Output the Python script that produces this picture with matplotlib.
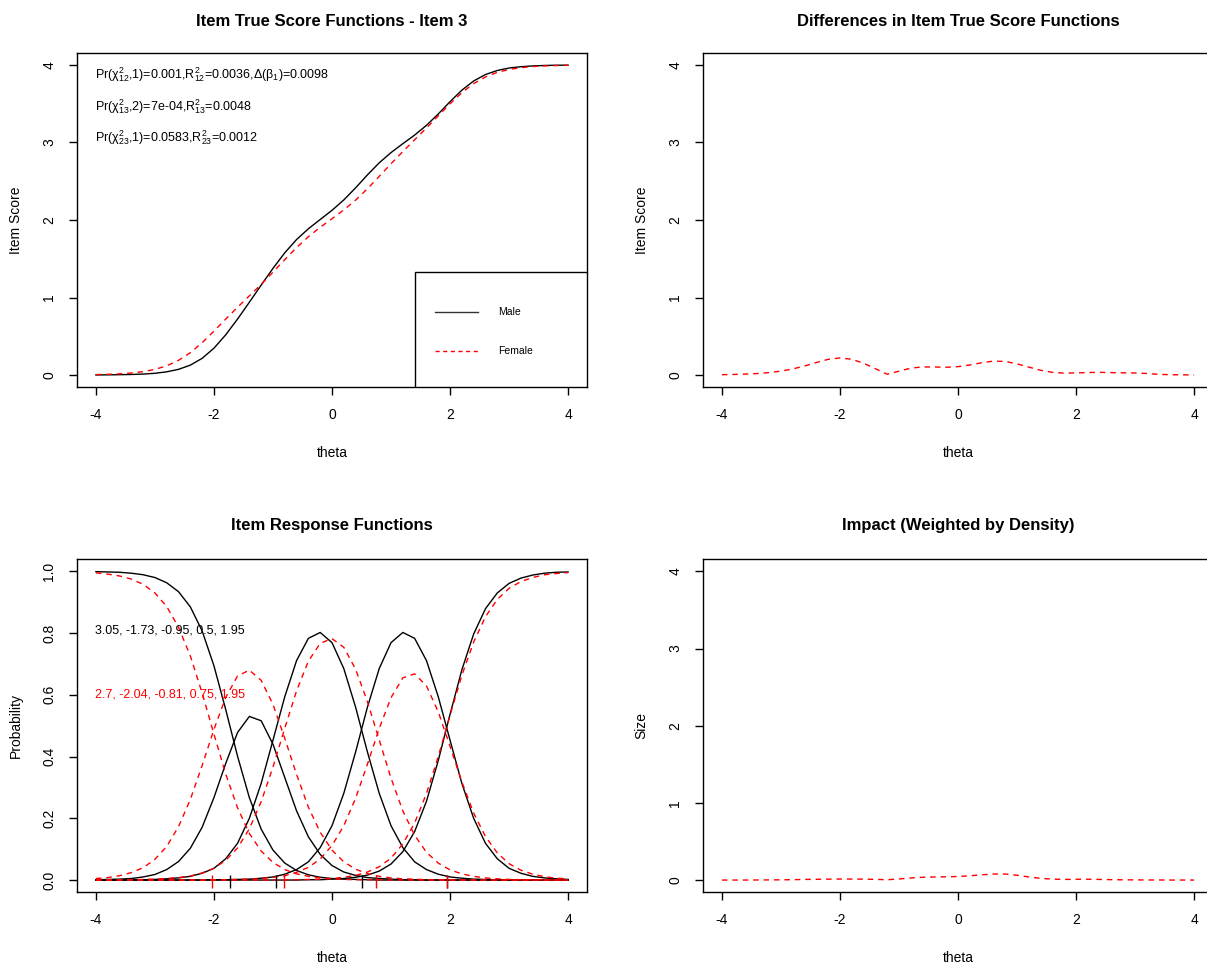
import matplotlib
matplotlib.use("Agg")
import matplotlib.pyplot as plt
from matplotlib.patches import Rectangle
from matplotlib.lines import Line2D

plt.rcParams['font.family'] = ['Liberation Sans', 'DejaVu Sans']
plt.rcParams['mathtext.fontset'] = 'custom'
plt.rcParams['mathtext.rm'] = 'Liberation Sans'
plt.rcParams['mathtext.it'] = 'Liberation Sans'
plt.rcParams['mathtext.sf'] = 'Liberation Sans'
plt.rcParams['axes.unicode_minus'] = False

# theta grid
theta = [-4.0, -3.8, -3.6, -3.4, -3.2, -3.0, -2.8, -2.6, -2.4, -2.2,
         -2.0, -1.8, -1.6, -1.4, -1.2, -1.0, -0.8, -0.6, -0.4, -0.2,
         0.0, 0.2, 0.4, 0.6, 0.8, 1.0, 1.2, 1.4, 1.6, 1.8,
         2.0, 2.2, 2.4, 2.6, 2.8, 3.0, 3.2, 3.4, 3.6, 3.8, 4.0]

# item true score functions
ets_male = [0.001, 0.002, 0.004, 0.007, 0.012, 0.022, 0.041, 0.073, 0.127, 0.215,
            0.346, 0.519, 0.722, 0.939, 1.160, 1.376, 1.577, 1.748, 1.887, 2.006,
            2.125, 2.259, 2.415, 2.582, 2.738, 2.870, 2.985, 3.096, 3.221, 3.368,
            3.527, 3.675, 3.794, 3.877, 3.929, 3.961, 3.978, 3.988, 3.994, 3.997, 3.998]
ets_female = [0.005, 0.009, 0.015, 0.026, 0.043, 0.072, 0.119, 0.189, 0.288, 0.417,
              0.566, 0.722, 0.874, 1.021, 1.170, 1.327, 1.488, 1.645, 1.784, 1.906,
              2.017, 2.130, 2.257, 2.403, 2.563, 2.726, 2.883, 3.035, 3.187, 3.344,
              3.500, 3.643, 3.760, 3.846, 3.905, 3.942, 3.966, 3.980, 3.988, 3.993, 3.996]

# differences and impact
diff = [0.004, 0.007, 0.012, 0.019, 0.031, 0.050, 0.078, 0.116, 0.161, 0.202,
        0.220, 0.203, 0.152, 0.082, 0.010, 0.049, 0.089, 0.104, 0.103, 0.100,
        0.108, 0.129, 0.158, 0.179, 0.175, 0.144, 0.102, 0.061, 0.034, 0.024,
        0.027, 0.032, 0.034, 0.031, 0.028, 0.026, 0.020, 0.008, 0.004, 0.002, 0.001]
impact = [0.000, 0.000, 0.000, 0.001, 0.002, 0.003, 0.005, 0.008, 0.010, 0.012,
          0.013, 0.013, 0.012, 0.009, 0.004, 0.014, 0.027, 0.036, 0.040, 0.042,
          0.046, 0.055, 0.068, 0.078, 0.078, 0.062, 0.040, 0.022, 0.012, 0.008,
          0.010, 0.011, 0.008, 0.005, 0.003, 0.002, 0.001, 0.001, 0.000, 0.000, 0.000]

# item response functions, categories 0..4
male_p0 = [0.999, 0.998, 0.997, 0.994, 0.989, 0.980, 0.963, 0.934, 0.885, 0.807,
           0.694, 0.552, 0.401, 0.267, 0.165, 0.097, 0.055, 0.031, 0.017, 0.009,
           0.005, 0.003, 0.002, 0.001, 0.000, 0.000, 0.000, 0.000, 0.000, 0.000,
           0.000, 0.000, 0.000, 0.000, 0.000, 0.000, 0.000, 0.000, 0.000, 0.000, 0.000]
male_p1 = [0.001, 0.002, 0.003, 0.005, 0.010, 0.018, 0.034, 0.060, 0.103, 0.171,
           0.267, 0.378, 0.478, 0.530, 0.516, 0.440, 0.332, 0.224, 0.140, 0.083,
           0.047, 0.026, 0.015, 0.008, 0.005, 0.003, 0.001, 0.001, 0.000, 0.000,
           0.000, 0.000, 0.000, 0.000, 0.000, 0.000, 0.000, 0.000, 0.000, 0.000, 0.000]
male_p2 = [0.000, 0.000, 0.000, 0.001, 0.001, 0.002, 0.004, 0.007, 0.012, 0.022,
           0.038, 0.069, 0.119, 0.200, 0.313, 0.453, 0.594, 0.711, 0.783, 0.802,
           0.769, 0.685, 0.560, 0.415, 0.281, 0.176, 0.105, 0.059, 0.034, 0.019,
           0.010, 0.006, 0.003, 0.002, 0.001, 0.000, 0.000, 0.000, 0.000, 0.000, 0.000]
male_p3 = [0.000, 0.000, 0.000, 0.000, 0.000, 0.000, 0.000, 0.000, 0.000, 0.000,
           0.001, 0.001, 0.002, 0.003, 0.006, 0.010, 0.019, 0.034, 0.059, 0.105,
           0.176, 0.281, 0.415, 0.560, 0.685, 0.769, 0.802, 0.783, 0.711, 0.594,
           0.453, 0.313, 0.200, 0.119, 0.069, 0.038, 0.022, 0.012, 0.007, 0.004, 0.002]
male_p4 = [0.000, 0.000, 0.000, 0.000, 0.000, 0.000, 0.000, 0.000, 0.000, 0.000,
           0.000, 0.000, 0.000, 0.000, 0.000, 0.000, 0.000, 0.000, 0.001, 0.001,
           0.003, 0.005, 0.009, 0.016, 0.029, 0.052, 0.092, 0.157, 0.255, 0.387,
           0.537, 0.681, 0.797, 0.879, 0.930, 0.961, 0.978, 0.988, 0.994, 0.997, 0.998]

female_p0 = [0.995, 0.991, 0.985, 0.975, 0.958, 0.930, 0.886, 0.819, 0.726, 0.606,
             0.473, 0.343, 0.234, 0.151, 0.094, 0.057, 0.034, 0.020, 0.012, 0.007,
             0.004, 0.002, 0.001, 0.001, 0.001, 0.000, 0.000, 0.000, 0.000, 0.000,
             0.000, 0.000, 0.000, 0.000, 0.000, 0.000, 0.000, 0.000, 0.000, 0.000, 0.000]
female_p1 = [0.005, 0.008, 0.014, 0.024, 0.040, 0.067, 0.109, 0.173, 0.261, 0.371,
             0.488, 0.592, 0.661, 0.680, 0.647, 0.569, 0.459, 0.342, 0.236, 0.155,
             0.097, 0.059, 0.035, 0.021, 0.012, 0.007, 0.004, 0.003, 0.001, 0.001,
             0.001, 0.000, 0.000, 0.000, 0.000, 0.000, 0.000, 0.000, 0.000, 0.000, 0.000]
female_p2 = [0.000, 0.000, 0.001, 0.001, 0.002, 0.003, 0.005, 0.008, 0.013, 0.023,
             0.038, 0.064, 0.104, 0.166, 0.254, 0.366, 0.492, 0.613, 0.709, 0.767,
             0.782, 0.754, 0.683, 0.578, 0.454, 0.330, 0.224, 0.145, 0.090, 0.055,
             0.033, 0.020, 0.012, 0.007, 0.004, 0.002, 0.001, 0.001, 0.001, 0.000, 0.000]
female_p3 = [0.000, 0.000, 0.000, 0.000, 0.000, 0.000, 0.000, 0.000, 0.000, 0.000,
             0.001, 0.001, 0.002, 0.003, 0.005, 0.009, 0.014, 0.025, 0.041, 0.068,
             0.112, 0.176, 0.265, 0.375, 0.491, 0.591, 0.655, 0.668, 0.629, 0.545,
             0.433, 0.318, 0.217, 0.141, 0.088, 0.053, 0.032, 0.019, 0.011, 0.006, 0.004]
female_p4 = [0.000, 0.000, 0.000, 0.000, 0.000, 0.000, 0.000, 0.000, 0.000, 0.000,
             0.000, 0.000, 0.000, 0.000, 0.000, 0.000, 0.001, 0.001, 0.002, 0.003,
             0.005, 0.009, 0.015, 0.026, 0.043, 0.071, 0.117, 0.185, 0.280, 0.400,
             0.534, 0.663, 0.771, 0.853, 0.909, 0.945, 0.967, 0.980, 0.989, 0.993, 0.996]

# item parameters (slope, thresholds)
male_a = 3.05
male_b = [-1.73, -0.95, 0.5, 1.95]
female_a = 2.7
female_b = [-2.04, -0.81, 0.75, 1.95]

stats_lines = [r'Pr($\chi^2_{12}$,1)=0.001,R$^2_{12}$=0.0036,$\Delta$($\beta_1$)=0.0098',
               r'Pr($\chi^2_{13}$,2)=7e-04,R$^2_{13}$=0.0048',
               r'Pr($\chi^2_{23}$,1)=0.0583,R$^2_{23}$=0.0012']
stats_y = [3.87, 3.46, 3.06]

RED = '#ff0000'
DASH = (0, (4, 3.5))

fig = plt.figure(figsize=(12.07, 9.69), dpi=100)
W, H = 1207.0, 969.0
ax1 = fig.add_axes([77 / W, 1 - 387.4 / H, 510 / W, 334.8 / H])
ax2 = fig.add_axes([703 / W, 1 - 387.4 / H, 510 / W, 334.8 / H])
ax3 = fig.add_axes([77 / W, 1 - 892.4 / H, 510 / W, 333.4 / H])
ax4 = fig.add_axes([703 / W, 1 - 892.4 / H, 510 / W, 333.4 / H])


def style(ax, title, ylabel, ylim, yticks, tpad):
    ax.set_xlim(-4.32, 4.32)
    ax.set_ylim(*ylim)
    ax.set_xticks([-4, -2, 0, 2, 4])
    ax.set_yticks(yticks)
    ax.tick_params(direction='out', length=6, width=1, labelsize=10, pad=9)
    ax.tick_params(axis='y', labelrotation=90)
    for lab in ax.get_yticklabels():
        lab.set_verticalalignment('center')
    for s in ax.spines.values():
        s.set_linewidth(1)
    ax.set_title(title, fontsize=12, fontweight='bold', pad=tpad)
    ax.set_xlabel('theta', fontsize=10, labelpad=17)
    ax.set_ylabel(ylabel, fontsize=10, labelpad=14)


# top left: true score functions
ax1.plot(theta, ets_male, color='black', lw=1)
ax1.plot(theta, ets_female, color=RED, lw=1, linestyle=DASH)
for txt, yy in zip(stats_lines, stats_y):
    ax1.text(-4.02, yy, txt, fontsize=9, ha='left', va='center')
style(ax1, 'Item True Score Functions - Item 3', 'Item Score', (-0.16, 4.16),
      [0, 1, 2, 3, 4], 19)

# legend box in the lower right corner
ax1.add_patch(Rectangle((0.663, 0.0), 0.337, 0.345, transform=ax1.transAxes,
                        facecolor='white', edgecolor='black', lw=1, zorder=5))
ax1.add_line(Line2D([0.702, 0.786], [0.2255, 0.2255], transform=ax1.transAxes,
                    color='#333333', lw=1, zorder=6))
ax1.add_line(Line2D([0.702, 0.786], [0.109, 0.109], transform=ax1.transAxes,
                    color=RED, lw=1, linestyle=(0, (3, 2.5)), zorder=6))
ax1.text(0.8255, 0.2255, 'Male', transform=ax1.transAxes, fontsize=7.5, va='center', zorder=6)
ax1.text(0.8255, 0.109, 'Female', transform=ax1.transAxes, fontsize=7.5, va='center', zorder=6)

# top right: differences
ax2.plot(theta, diff, color=RED, lw=1, linestyle=DASH)
style(ax2, 'Differences in Item True Score Functions', 'Item Score', (-0.16, 4.16),
      [0, 1, 2, 3, 4], 19)

# bottom left: item response functions
for p in [male_p0, male_p1, male_p2, male_p3, male_p4]:
    ax3.plot(theta, p, color='black', lw=1)
for p in [female_p0, female_p1, female_p2, female_p3, female_p4]:
    ax3.plot(theta, p, color=RED, lw=1, linestyle=DASH)
ax3.vlines(male_b, -0.026, 0.016, color='black', lw=1)
ax3.vlines(female_b, -0.026, 0.016, color=RED, lw=1)
ax3.text(-4.02, 0.81, ', '.join(str(v) for v in [male_a] + male_b), fontsize=9,
         ha='left', va='center', color='black')
ax3.text(-4.02, 0.60, ', '.join(str(v) for v in [female_a] + female_b), fontsize=9,
         ha='left', va='center', color=RED)
style(ax3, 'Item Response Functions', 'Probability', (-0.04, 1.04),
      [0.0, 0.2, 0.4, 0.6, 0.8, 1.0], 21)

# bottom right: impact
ax4.plot(theta, impact, color=RED, lw=1, linestyle=DASH)
style(ax4, 'Impact (Weighted by Density)', 'Size', (-0.16, 4.16), [0, 1, 2, 3, 4], 21)

fig.savefig('out.png', dpi=100)
